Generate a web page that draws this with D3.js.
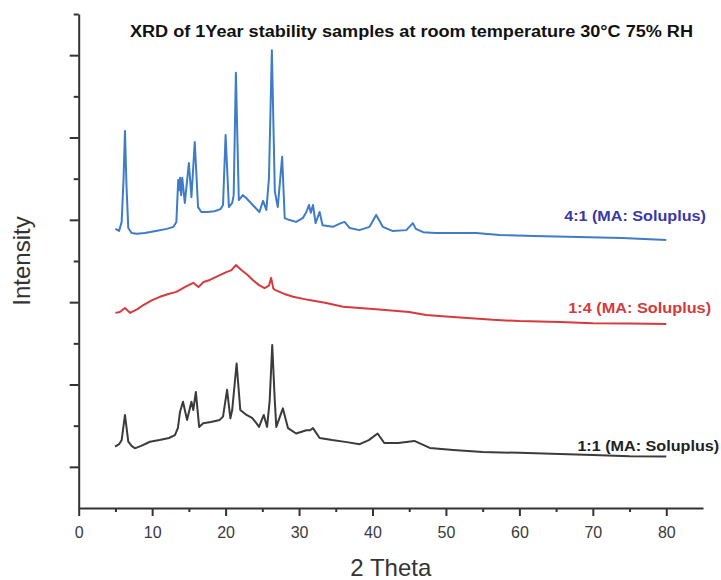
<!DOCTYPE html>
<html>
<head>
<meta charset="utf-8">
<script src="https://cdn.jsdelivr.net/npm/d3@7"></script>
<style>
  html, body { margin: 0; padding: 0; background: #fff; }
  svg { display: block; font-family: "Liberation Sans", Arial, sans-serif; }
</style>
</head>
<body>
<svg id="chart" width="721" height="580"></svg>
<script>
// ---------- data (2θ in degrees, intensity in offset arbitrary units) ----------
const seriesNames = ["4:1 (MA: Soluplus)", "1:4 (MA: Soluplus)", "1:1 (MA: Soluplus)"];

const theta41 = [5.0,5.5,5.85,6.1,6.3,6.5,6.75,7.2,7.9,9.0,10.5,12.0,12.9,13.3,13.55,13.7,13.8,13.95,14.1,14.45,15.0,15.35,15.8,16.25,16.7,17.5,18.5,19.3,19.65,20.0,20.45,20.9,21.1,21.4,21.8,22.35,22.8,23.7,24.6,25.1,25.55,25.9,26.3,26.7,27.1,27.7,28.05,28.6,29.6,30.5,31.0,31.35,31.6,31.9,32.25,32.8,33.2,34.6,35.7,36.2,36.9,38.2,39.6,40.5,41.4,42.7,44.6,45.5,45.9,46.9,48.6,51.4,54.1,57.3,62,68,74,80];
const int41   = [6.78,6.73,6.95,7.97,9.16,7.85,6.80,6.68,6.66,6.68,6.73,6.78,6.83,6.95,7.97,7.72,8.02,7.60,8.02,7.41,8.38,7.55,8.89,7.31,7.19,7.19,7.21,7.26,7.36,9.06,7.31,7.41,7.60,10.57,7.48,7.60,7.53,7.36,7.19,7.46,7.24,8.0,11.12,7.70,7.31,8.53,7.04,7.00,6.95,7.04,7.19,7.36,7.17,7.36,6.92,7.19,6.87,6.83,6.92,6.95,6.80,6.75,6.83,7.12,6.83,6.73,6.75,6.92,6.78,6.70,6.68,6.68,6.68,6.63,6.61,6.58,6.56,6.51];

const theta14 = [5.0,5.6,6.3,7.0,8.0,8.8,10.0,11.05,12.2,13.3,14.5,15.6,16.3,17.0,17.85,19.0,20.1,20.8,21.4,22.15,23.0,23.7,24.5,25.3,25.9,26.2,26.5,26.7,28.0,29.2,31.4,33.7,36.0,38.25,40.5,45.0,47.3,50,56.4,60,65.5,70,75,80];
const int14   = [4.74,4.76,4.86,4.74,4.83,4.93,5.05,5.13,5.20,5.25,5.37,5.47,5.37,5.49,5.54,5.64,5.73,5.78,5.90,5.78,5.66,5.54,5.42,5.34,5.40,5.59,5.33,5.30,5.20,5.13,5.05,4.98,4.89,4.86,4.83,4.76,4.69,4.65,4.57,4.54,4.52,4.49,4.48,4.47];

const theta11 = [4.95,5.5,5.85,6.3,6.75,7.2,7.65,8.5,9.7,11.0,12.3,13.1,13.5,13.8,14.2,14.75,15.35,15.6,15.95,16.4,16.95,18.0,19.2,19.65,20.2,20.65,20.9,21.5,22.0,22.85,23.6,24.2,24.55,25.2,25.65,26.0,26.35,26.7,26.9,27.8,28.5,29.6,31.0,31.5,31.9,32.8,34.5,36.5,38.25,39.5,40.7,41.6,43.5,45.7,47.8,51,55,60,65.5,70,75,80];
const int11   = [1.49,1.55,1.65,2.26,1.61,1.51,1.45,1.51,1.61,1.65,1.70,1.77,1.94,2.34,2.58,2.14,2.58,2.38,2.82,1.97,2.06,2.09,2.14,2.22,2.87,2.18,2.38,3.51,2.38,2.26,2.19,2.06,1.97,2.26,1.97,2.60,3.96,2.60,1.97,2.42,1.94,1.81,1.89,1.89,1.94,1.70,1.65,1.60,1.55,1.65,1.81,1.58,1.58,1.63,1.46,1.41,1.36,1.34,1.31,1.29,1.26,1.25];

// label anchors (data coordinates): start θ, end θ, intensity
const labelTheta    = [66.1, 66.65, 67.9];
const labelThetaEnd = [85.4, 86.1, 87.2];
const labelInt      = [6.97, 4.74, 1.38];

const xMajorTicks = [0,10,20,30,40,50,60,70,80];
const xMinorTicks = [5,15,25,35,45,55,65,75];
const yMajorTicks = [1,3,5,7,9,11];
const yMinorTicks = [2,4,6,8,10,12];

const titleText = "XRD of 1Year stability samples at room temperature 30°C 75% RH";
const xLabel = "2 Theta";
const yLabel = "Intensity";

// ---------- styles ----------
const lineColors  = ["#3f7cc6", "#d63a3d", "#3b3b3b"];
const labelColors = ["#3838a6", "#d43a3a", "#222222"];

// ---------- layout ----------
const svg = d3.select("#chart");
const x = d3.scaleLinear().domain([0, 85]).range([78.7, 703]);
const y = d3.scaleLinear().domain([0, 12]).range([508, 14]);

const series = [
  d3.zip(theta41, int41),
  d3.zip(theta14, int14),
  d3.zip(theta11, int11)
];

const line = d3.line().x(d => x(d[0])).y(d => y(d[1]));

series.forEach((s, i) => {
  svg.append("path")
    .datum(s)
    .attr("fill", "none")
    .attr("stroke", lineColors[i])
    .attr("stroke-width", 2)
    .attr("stroke-linejoin", "round")
    .attr("d", line);
});

// axes
const axisColor = "#333";
const gx = svg.append("g").attr("transform", `translate(0,${y(0)})`)
  .call(d3.axisBottom(x).tickValues(xMajorTicks).tickSize(8).tickSizeOuter(0).tickPadding(11).tickFormat(d3.format("d")));
svg.append("g").attr("transform", `translate(0,${y(0)})`)
  .call(d3.axisBottom(x).tickValues(xMinorTicks).tickSize(4).tickSizeOuter(0).tickFormat(""))
  .select(".domain").remove();

svg.append("g").attr("transform", `translate(${x(0)},0)`)
  .call(d3.axisLeft(y).tickValues(yMajorTicks).tickSize(9).tickSizeOuter(0).tickFormat(""));
svg.append("g").attr("transform", `translate(${x(0)},0)`)
  .call(d3.axisLeft(y).tickValues(yMinorTicks).tickSize(5).tickSizeOuter(0).tickFormat(""))
  .select(".domain").remove();

svg.selectAll(".domain").attr("stroke", axisColor).attr("stroke-width", 2);
svg.selectAll(".tick line").attr("stroke", axisColor).attr("stroke-width", 2);
gx.selectAll(".tick text").attr("fill", "#3a3a3a").style("font-size", "16px").style("font-family", "'Liberation Sans', Arial, sans-serif");

// axis titles
svg.append("text")
  .attr("x", (x.range()[0] + x.range()[1]) / 2)
  .attr("y", 576)
  .attr("text-anchor", "middle")
  .attr("fill", "#333")
  .style("font-size", "24px")
  .text(xLabel);

svg.append("text")
  .attr("transform", `translate(30,${(y.range()[0] + y.range()[1]) / 2}) rotate(-90)`)
  .attr("text-anchor", "middle")
  .attr("fill", "#333")
  .style("font-size", "24px")
  .text(yLabel);

// title
svg.append("text")
  .attr("x", 130)
  .attr("y", 36.5)
  .attr("fill", "#111")
  .attr("textLength", 563)
  .attr("lengthAdjust", "spacingAndGlyphs")
  .style("font-size", "16px")
  .style("font-weight", "bold")
  .text(titleText);

// series labels
seriesNames.forEach((n, i) => {
  svg.append("text")
    .attr("x", x(labelTheta[i]))
    .attr("y", y(labelInt[i]))
    .attr("fill", labelColors[i])
    .attr("textLength", x(labelThetaEnd[i]) - x(labelTheta[i]))
    .attr("lengthAdjust", "spacingAndGlyphs")
    .style("font-size", "14px")
    .style("font-weight", "bold")
    .text(n);
});
</script>
</body>
</html>
